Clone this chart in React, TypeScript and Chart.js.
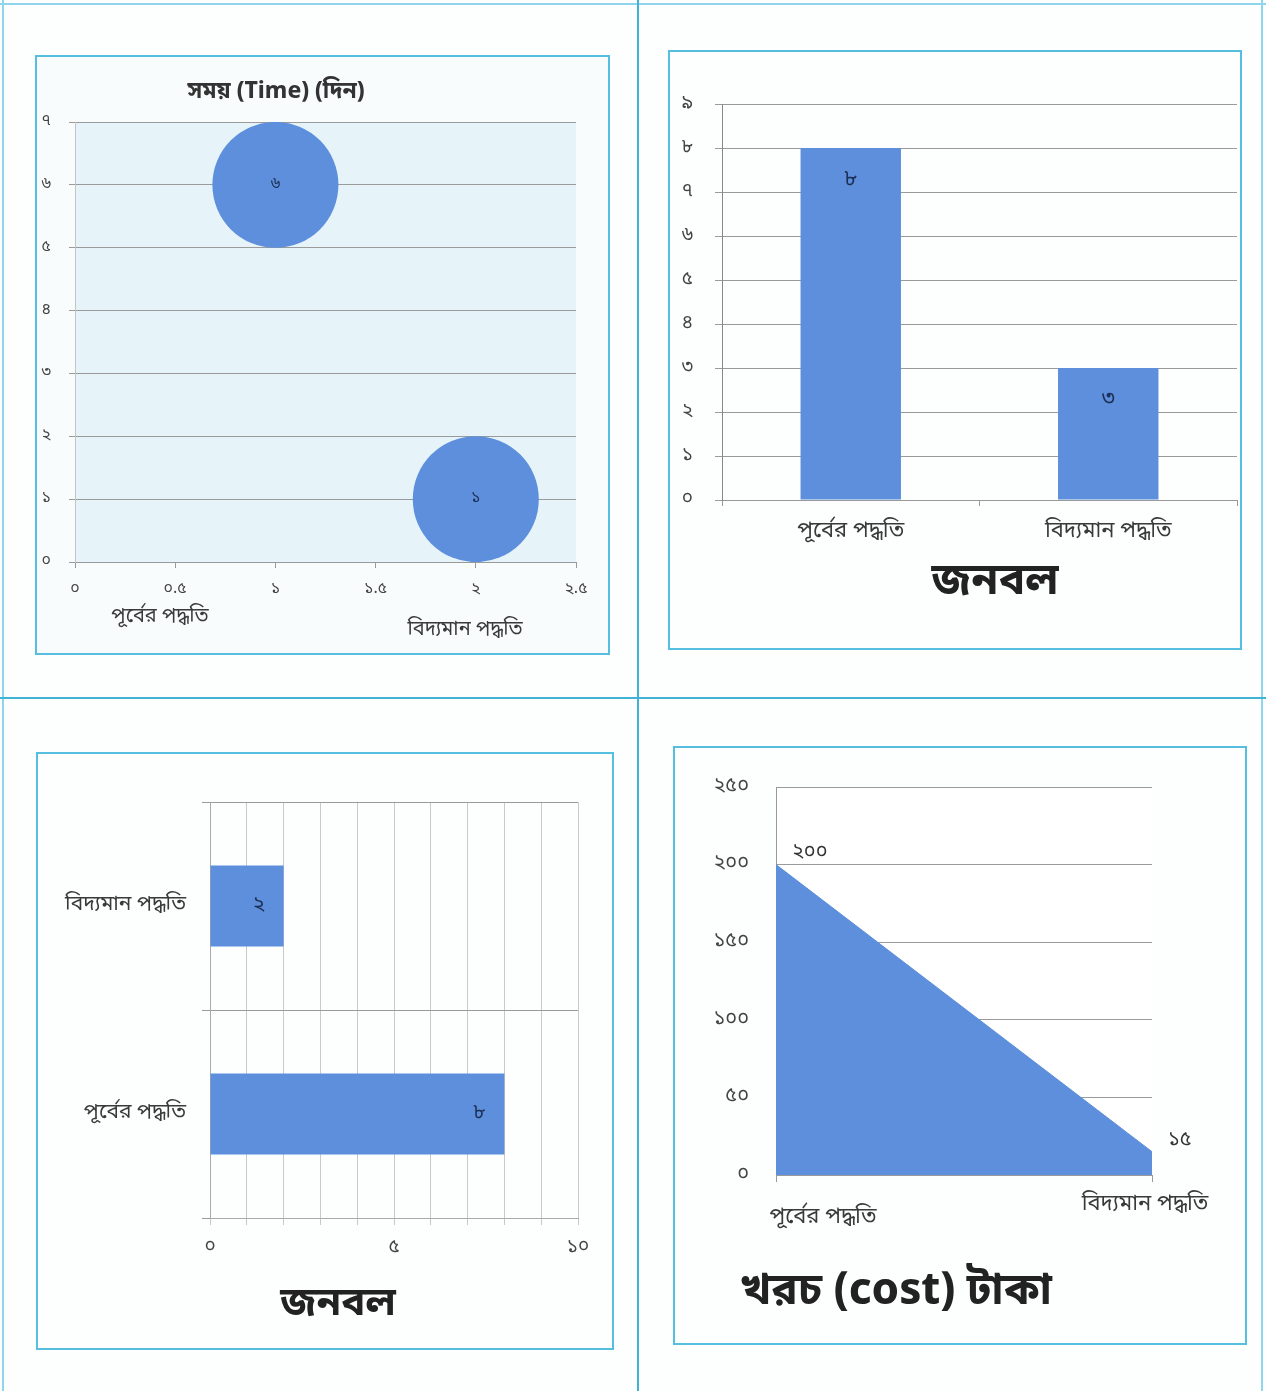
import React, { useEffect, useRef } from "react";
import { Chart, registerables } from "chart.js";

Chart.register(...registerables);

// ---------- data ----------
const methods = ["পূর্বের পদ্ধতি", "বিদ্যমান পদ্ধতি"];

// Chart 1: time (days) bubble chart
const timeX = [1, 2];
const timeDays = [6, 1];
const timeXTickLabels = ["০", "০.৫", "১", "১.৫", "২", "২.৫"];
const timeYTickLabels = ["০", "১", "২", "৩", "৪", "৫", "৬", "৭"];

// Chart 2: manpower column chart
const staffColumn = [8, 3];
const staffColumnTicks = ["০", "১", "২", "৩", "৪", "৫", "৬", "৭", "৮", "৯"];

// Chart 3: manpower horizontal bar chart
const staffBar = [8, 2];
const staffBarTicks = ["০", "", "", "", "", "৫", "", "", "", "", "১০"];

// Chart 4: cost area chart
const cost = [200, 15];
const costTicks = ["০", "৫০", "১০০", "১৫০", "২০০", "২৫০"];

// ---------- helpers ----------
const BN = ["০", "১", "২", "৩", "৪", "৫", "৬", "৭", "৮", "৯"];
const toBn = (v: number | string) => String(v).replace(/[0-9]/g, (d) => BN[+d]);

const FONT = "'Noto Sans Bengali', 'Noto Serif Bengali', 'Lohit Bengali', 'FreeSans', 'Noto Sans', sans-serif";
const BLUE = "#5d8fdc";
const CYAN = "#56bfe0";
const TICK = "#444";
const LABEL_DARK = "#1d2f55";

const plotBg = (color: string) => ({
  id: "plotBg",
  beforeDraw(chart: any) {
    const { ctx, chartArea: a } = chart;
    ctx.save();
    ctx.fillStyle = color;
    ctx.fillRect(a.left, a.top, a.right - a.left, a.bottom - a.top);
    ctx.restore();
  },
});

const valueLabels = (
  place: (el: any) => [number, number],
  align: CanvasTextAlign,
  size: number,
  color: string = LABEL_DARK
) => ({
  id: "valueLabels",
  afterDatasetsDraw(chart: any) {
    const { ctx } = chart;
    const meta = chart.getDatasetMeta(0);
    const ds = chart.data.datasets[0].data;
    ctx.save();
    ctx.font = `${size}px ${FONT}`;
    ctx.fillStyle = color;
    ctx.textAlign = align;
    ctx.textBaseline = "middle";
    meta.data.forEach((el: any, i: number) => {
      const raw = ds[i];
      const v = typeof raw === "object" ? raw.y : raw;
      const [x, y] = place(el);
      ctx.fillText(toBn(v), x, y);
    });
    ctx.restore();
  },
});

function ChartCanvas({ left, top, width, height, make }: any) {
  const ref = useRef<HTMLCanvasElement>(null);
  useEffect(() => {
    const chart = new Chart(ref.current as HTMLCanvasElement, make());
    return () => chart.destroy();
  }, []);
  return (
    <div style={{ position: "absolute", left, top, width, height }}>
      <canvas ref={ref} />
    </div>
  );
}

const Text = ({ x, y, size, bold, children, color, spacing }: any) => (
  <div
    style={{
      position: "absolute",
      left: x,
      top: y,
      transform: "translate(-50%, -50%)",
      whiteSpace: "nowrap",
      fontFamily: FONT,
      fontSize: size,
      fontWeight: bold ? 700 : 400,
      color: color || "#3a3a3a",
      letterSpacing: spacing || 0,
      lineHeight: 1,
    }}
  >
    {children}
  </div>
);

const Box = ({ left, top, width, height }: any) => (
  <div
    style={{
      position: "absolute",
      left,
      top,
      width,
      height,
      boxSizing: "border-box",
      border: `2px solid ${CYAN}`,
    }}
  />
);

const Line = ({ left, top, width, height, color }: any) => (
  <div style={{ position: "absolute", left, top, width, height, background: color }} />
);

// ---------- chart configs ----------
const baseOpts = {
  animation: false,
  responsive: true,
  maintainAspectRatio: false,
  plugins: { legend: { display: false }, tooltip: { enabled: false }, title: { display: false } },
};

const makeBubble = () => ({
  type: "bubble",
  data: {
    datasets: [
      {
        data: timeX.map((x, i) => ({ x, y: timeDays[i] })),
        backgroundColor: BLUE,
        borderWidth: 0,
        radius: 63,
        clip: 0,
      },
    ],
  },
  options: {
    ...baseOpts,
    layout: { autoPadding: false, padding: { top: 65, right: 32, left: 0, bottom: 0 } },
    scales: {
      x: {
        type: "linear",
        min: 0,
        max: 2.5,
        ticks: {
          stepSize: 0.5,
          callback: (_v: any, i: number) => timeXTickLabels[i],
          padding: 12,
          maxRotation: 0,
          color: TICK,
          font: { family: FONT, size: 16 },
        },
        grid: { drawOnChartArea: false, tickLength: 6, color: "#999" },
        border: { color: "#999" },
        afterFit: (s: any) => {
          s.height = 91;
        },
      },
      y: {
        min: 0,
        max: 7,
        ticks: {
          stepSize: 1,
          callback: (_v: any, i: number) => timeYTickLabels[i],
          padding: 18,
          color: TICK,
          font: { family: FONT, size: 16 },
        },
        grid: { color: "#9a9a9a", tickLength: 6 },
        border: { color: "#c4c4c4" },
        afterFit: (s: any) => {
          s.width = 38;
        },
      },
    },
  },
  plugins: [plotBg("#e6f4fa"), valueLabels((el) => [el.x, el.y], "center", 16)],
});

const makeColumn = () => ({
  type: "bar",
  data: {
    labels: methods,
    datasets: [
      {
        data: staffColumn,
        backgroundColor: BLUE,
        categoryPercentage: 1,
        barPercentage: 0.39,
      },
    ],
  },
  options: {
    ...baseOpts,
    layout: { padding: { top: 52, right: 3, left: 0, bottom: 0 } },
    scales: {
      x: {
        ticks: {
          padding: 14,
          maxRotation: 0,
          color: "#3a3a3a",
          font: { family: FONT, size: 22 },
        },
        grid: { drawOnChartArea: false, tickLength: 6, color: "#999", offset: true },
        border: { color: "#999" },
        afterFit: (s: any) => {
          s.height = 148;
        },
      },
      y: {
        min: 0,
        max: 9,
        ticks: {
          stepSize: 1,
          callback: (_v: any, i: number) => staffColumnTicks[i],
          padding: 22,
          color: TICK,
          font: { family: FONT, size: 19 },
        },
        grid: { color: "#9a9a9a", tickLength: 7 },
        border: { color: "#888" },
        afterFit: (s: any) => {
          s.width = 52;
        },
      },
    },
  },
  plugins: [valueLabels((el) => [el.x, el.y + 33], "center", 22)],
});

const makeHBar = () => ({
  type: "bar",
  data: {
    labels: methods,
    datasets: [
      {
        data: staffBar,
        backgroundColor: BLUE,
        categoryPercentage: 1,
        barPercentage: 0.39,
      },
    ],
  },
  options: {
    ...baseOpts,
    indexAxis: "y",
    layout: { padding: { top: 48, right: 34, left: 0, bottom: 0 } },
    scales: {
      x: {
        type: "linear",
        min: 0,
        max: 10,
        ticks: {
          stepSize: 1,
          autoSkip: false,
          callback: (_v: any, i: number) => staffBarTicks[i],
          padding: 12,
          maxRotation: 0,
          color: TICK,
          font: { family: FONT, size: 19 },
        },
        grid: { color: "#c9c9c9", tickLength: 7 },
        border: { color: "#aaa" },
        afterFit: (s: any) => {
          s.height = 130;
        },
      },
      y: {
        reverse: true,
        ticks: {
          padding: 16,
          color: "#3a3a3a",
          font: { family: FONT, size: 21 },
        },
        grid: { color: "#9a9a9a", tickLength: 8, offset: true },
        border: { color: "#aaa" },
        afterFit: (s: any) => {
          s.width = 172;
        },
      },
    },
  },
  plugins: [valueLabels((el) => [el.x - 25, el.y], "center", 21)],
});

const makeArea = () => ({
  type: "line",
  data: {
    labels: methods,
    datasets: [
      {
        data: cost,
        backgroundColor: BLUE,
        borderColor: BLUE,
        borderWidth: 1,
        pointRadius: 0,
        tension: 0,
        fill: "origin",
      },
    ],
  },
  options: {
    ...baseOpts,
    layout: { autoPadding: false, padding: { top: 34, right: 93, left: 0, bottom: 0 } },
    scales: {
      x: {
        offset: false,
        ticks: { display: false },
        grid: { drawOnChartArea: false, tickLength: 7, color: "#999" },
        border: { color: "#999" },
        afterFit: (s: any) => {
          s.height = 168;
        },
      },
      y: {
        min: 0,
        max: 250,
        ticks: {
          stepSize: 50,
          callback: (_v: any, i: number) => costTicks[i],
          padding: 27,
          color: TICK,
          font: { family: FONT, size: 20 },
        },
        grid: { color: "#9a9a9a", tickLength: 0 },
        border: { color: "#999" },
        afterFit: (s: any) => {
          s.width = 101;
        },
      },
    },
  },
  plugins: [plotBg("#ffffff"), valueLabels((el) => [el.x + 16, el.y - 11], "left", 20, "#333")],
});

export default function App() {
  return (
    <div
      style={{
        position: "absolute",
        left: 0,
        top: 0,
        width: 1266,
        height: 1391,
        background: "#fdfefe",
        overflow: "hidden",
        fontFamily: FONT,
      }}
    >
      {/* page frame lines */}
      <Line left={0} top={3} width={1266} height={2} color="#8fd6ec" />
      <Line left={2} top={0} width={2} height={1391} color="#8fd6ec" />
      <Line left={1261} top={0} width={2} height={1391} color="#8fd6ec" />
      <Line left={637} top={0} width={2} height={1391} color="#3fb2d6" />
      <Line left={0} top={697} width={1266} height={2} color="#3fb2d6" />

      {/* chart boxes */}
      <Box left={35} top={55} width={575} height={600} />
      <Box left={668} top={50} width={574} height={600} />
      <Box left={36} top={752} width={578} height={598} />
      <Box left={673} top={746} width={574} height={599} />

      {/* Chart 1 */}
      <div style={{ position: "absolute", left: 37, top: 57, width: 571, height: 596, background: "#f9fcfd" }} />
      <ChartCanvas left={37} top={57} width={571} height={596} make={makeBubble} />
      <Text x={276} y={92} size={23} bold color="#333">সময় (Time) (দিন)</Text>
      <Text x={160} y={617} size={20}>{methods[0]}</Text>
      <Text x={465} y={630} size={20}>{methods[1]}</Text>

      {/* Chart 2 */}
      <ChartCanvas left={670} top={52} width={570} height={596} make={makeColumn} />
      <Text x={995} y={583} size={44} bold color="#222">জনবল</Text>

      {/* Chart 3 */}
      <ChartCanvas left={38} top={754} width={574} height={594} make={makeHBar} />
      <Text x={338} y={1305} size={40} bold color="#222">জনবল</Text>

      {/* Chart 4 */}
      <ChartCanvas left={675} top={748} width={570} height={595} make={makeArea} />
      <Text x={823} y={1218} size={22}>{methods[0]}</Text>
      <Text x={1145} y={1205} size={22}>{methods[1]}</Text>
      <div
        style={{
          position: "absolute",
          left: 740,
          top: 1293,
          transform: "translateY(-50%)",
          whiteSpace: "nowrap",
          fontFamily: FONT,
          fontSize: 44,
          fontWeight: 700,
          color: "#222",
          lineHeight: 1,
        }}
      >
        খরচ (cost) টাকা
      </div>
    </div>
  );
}
